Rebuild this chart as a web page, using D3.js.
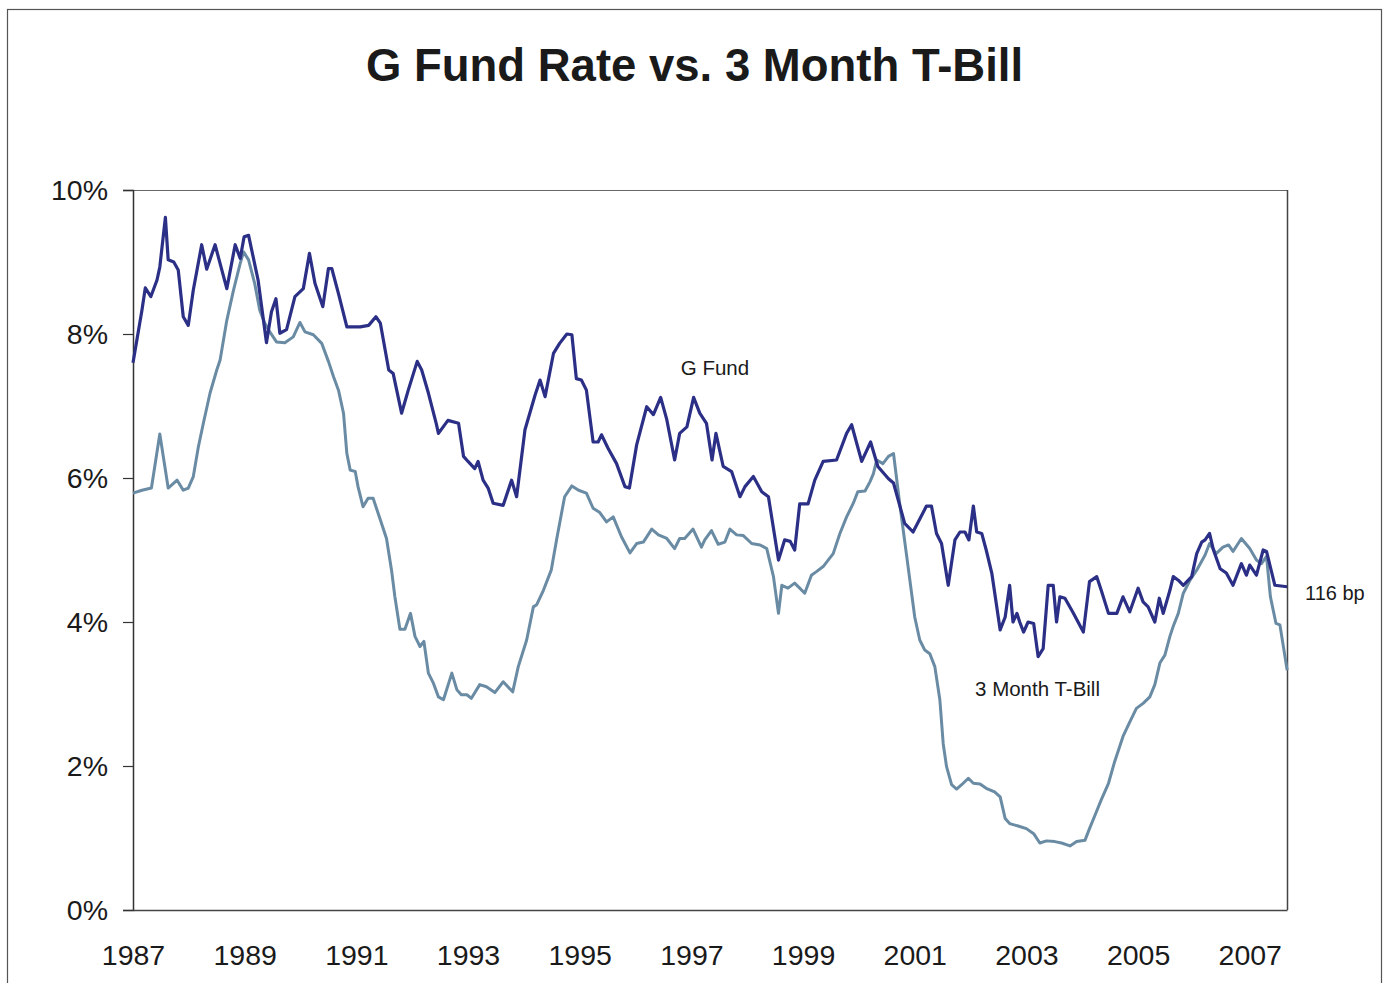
<!DOCTYPE html>
<html>
<head>
<meta charset="utf-8">
<script src="https://cdn.jsdelivr.net/npm/d3@7"></script>
<style>
  html, body { margin: 0; padding: 0; background: #fff; }
  svg { display: block; }
  text { font-family: "Liberation Sans", Arial, sans-serif; fill: #1a1a1a; }
</style>
</head>
<body>
<svg id="chart" width="1387" height="983"></svg>
<script>
// ---- data (decimal year, percent) ----
const gFundDates = [1987.00,1987.16,1987.22,1987.32,1987.43,1987.48,1987.58,1987.63,1987.73,1987.81,1987.90,1987.99,
  1988.08,1988.23,1988.32,1988.47,1988.68,1988.83,1988.92,1988.99,1989.07,1989.24,1989.39,1989.48,1989.56,1989.63,
  1989.75,1989.90,1990.05,1990.16,1990.26,1990.40,1990.50,1990.56,1990.68,1990.83,1991.07,1991.22,1991.35,1991.43,
  1991.58,1991.66,1991.81,1991.93,1992.09,1992.17,1992.29,1992.43,1992.47,1992.64,1992.83,1992.92,1993.00,1993.12,
  1993.18,1993.27,1993.36,1993.45,1993.63,1993.78,1993.87,1994.02,1994.20,1994.29,1994.38,1994.53,1994.64,1994.77,
  1994.86,1994.94,1995.03,1995.12,1995.24,1995.33,1995.39,1995.51,1995.66,1995.81,1995.89,1996.02,1996.20,1996.32,
  1996.45,1996.56,1996.70,1996.79,1996.92,1997.04,1997.15,1997.27,1997.37,1997.44,1997.57,1997.72,1997.87,1997.96,
  1998.11,1998.26,1998.38,1998.56,1998.67,1998.77,1998.85,1998.94,1999.09,1999.21,1999.36,1999.60,1999.78,1999.87,
  2000.05,2000.21,2000.34,2000.53,2000.62,2000.82,2000.97,2001.21,2001.30,2001.39,2001.48,2001.60,2001.72,2001.81,
  2001.90,2001.97,2002.05,2002.11,2002.20,2002.28,2002.38,2002.53,2002.62,2002.70,2002.76,2002.83,2002.88,2002.95,
  2003.03,2003.13,2003.21,2003.30,2003.39,2003.48,2003.54,2003.60,2003.69,2003.83,2004.02,2004.13,2004.26,2004.34,
  2004.47,2004.62,2004.73,2004.85,2005.00,2005.09,2005.18,2005.30,2005.38,2005.45,2005.57,2005.63,2005.72,2005.81,
  2005.96,2006.05,2006.14,2006.20,2006.28,2006.35,2006.47,2006.58,2006.70,2006.85,2006.94,2007.00,2007.12,2007.24,
  2007.30,2007.45,2007.67];
const gFundRates = [7.60,8.33,8.64,8.52,8.75,8.93,9.62,9.03,9.00,8.89,8.24,8.12,
  8.61,9.24,8.90,9.24,8.63,9.24,9.05,9.35,9.37,8.75,7.88,8.31,8.49,8.01,
  8.06,8.52,8.63,9.12,8.70,8.38,8.91,8.91,8.56,8.10,8.10,8.12,8.24,8.15,
  7.50,7.45,6.90,7.22,7.62,7.50,7.18,6.76,6.62,6.80,6.76,6.30,6.23,6.13,
  6.23,5.97,5.86,5.65,5.62,5.97,5.74,6.67,7.15,7.36,7.13,7.73,7.87,8.00,
  7.99,7.38,7.36,7.22,6.50,6.50,6.60,6.41,6.20,5.88,5.86,6.46,6.99,6.88,
  7.12,6.81,6.25,6.62,6.71,7.12,6.90,6.76,6.25,6.62,6.16,6.09,5.74,5.88,
  6.02,5.81,5.74,4.86,5.14,5.12,5.00,5.64,5.64,5.97,6.23,6.25,6.62,6.74,
  6.23,6.50,6.16,5.99,5.93,5.37,5.25,5.61,5.61,5.23,5.09,4.51,5.14,5.25,
  5.25,5.14,5.61,5.25,5.23,5.00,4.68,3.89,4.07,4.51,4.00,4.12,4.00,3.86,
  4.00,3.98,3.52,3.63,4.51,4.51,4.00,4.35,4.33,4.14,3.86,4.56,4.63,4.44,
  4.12,4.12,4.35,4.14,4.47,4.28,4.21,4.00,4.33,4.12,4.44,4.63,4.58,4.51,
  4.63,4.95,5.11,5.14,5.23,5.00,4.74,4.68,4.51,4.81,4.65,4.79,4.65,5.00,
  4.98,4.51,4.49];

const tBillDates = [1987.00,1987.16,1987.33,1987.48,1987.63,1987.79,1987.90,1987.99,1988.08,1988.17,1988.26,1988.38,
  1988.50,1988.56,1988.68,1988.80,1988.92,1988.98,1989.07,1989.18,1989.27,1989.36,1989.45,1989.57,1989.72,1989.87,
  1989.99,1990.08,1990.23,1990.38,1990.50,1990.59,1990.68,1990.77,1990.83,1990.89,1990.98,1991.03,1991.12,1991.21,
  1991.30,1991.42,1991.54,1991.63,1991.69,1991.78,1991.87,1991.97,1992.05,1992.14,1992.21,1992.29,1992.38,1992.47,
  1992.56,1992.71,1992.80,1992.88,1992.98,1993.06,1993.21,1993.33,1993.48,1993.63,1993.80,1993.90,1994.05,1994.17,
  1994.23,1994.35,1994.49,1994.59,1994.73,1994.86,1994.98,1995.12,1995.24,1995.36,1995.48,1995.60,1995.75,1995.90,
  1996.02,1996.14,1996.29,1996.41,1996.56,1996.70,1996.79,1996.88,1997.03,1997.18,1997.24,1997.36,1997.48,1997.60,
  1997.69,1997.81,1997.93,1998.08,1998.23,1998.35,1998.47,1998.56,1998.62,1998.73,1998.85,1998.94,1999.03,1999.15,
  1999.24,1999.36,1999.45,1999.54,1999.66,1999.78,1999.90,1999.98,2000.11,2000.20,2000.26,2000.32,2000.43,2000.53,
  2000.62,2000.73,2000.85,2001.00,2001.09,2001.18,2001.27,2001.36,2001.45,2001.51,2001.57,2001.66,2001.75,2001.84,
  2001.96,2002.05,2002.17,2002.28,2002.43,2002.53,2002.62,2002.70,2002.88,2003.00,2003.13,2003.24,2003.36,2003.51,
  2003.63,2003.78,2003.90,2004.05,2004.13,2004.23,2004.34,2004.47,2004.58,2004.73,2004.85,2004.97,2005.09,2005.21,
  2005.30,2005.39,2005.48,2005.57,2005.63,2005.72,2005.81,2005.93,2006.05,2006.20,2006.28,2006.40,2006.52,2006.62,
  2006.70,2006.85,2007.00,2007.12,2007.21,2007.30,2007.37,2007.47,2007.54,2007.67];
const tBillRates = [5.79,5.83,5.86,6.61,5.86,5.97,5.83,5.86,6.02,6.43,6.76,7.18,
  7.50,7.64,8.19,8.61,8.98,9.14,9.03,8.70,8.33,8.15,8.03,7.89,7.88,7.96,
  8.16,8.03,7.99,7.87,7.62,7.41,7.22,6.90,6.34,6.11,6.09,5.88,5.60,5.72,
  5.72,5.44,5.16,4.72,4.35,3.90,3.90,4.12,3.80,3.66,3.73,3.29,3.15,2.96,
  2.92,3.29,3.06,2.99,2.99,2.94,3.13,3.10,3.02,3.17,3.03,3.38,3.75,4.21,
  4.24,4.44,4.72,5.16,5.74,5.89,5.83,5.79,5.58,5.52,5.39,5.46,5.18,4.96,
  5.09,5.11,5.29,5.21,5.16,5.02,5.16,5.16,5.29,5.04,5.14,5.27,5.08,5.11,
  5.29,5.21,5.20,5.09,5.07,5.02,4.63,4.12,4.51,4.47,4.54,4.47,4.40,4.65,
  4.70,4.77,4.86,4.95,5.23,5.46,5.65,5.81,5.82,5.95,6.06,6.25,6.20,6.30,
  6.34,5.65,4.95,4.07,3.75,3.61,3.56,3.38,2.92,2.31,1.99,1.74,1.68,1.74,
  1.83,1.76,1.75,1.69,1.64,1.57,1.27,1.20,1.16,1.13,1.06,0.93,0.96,0.95,
  0.93,0.89,0.95,0.97,1.13,1.32,1.53,1.76,2.06,2.41,2.61,2.80,2.87,2.96,
  3.13,3.43,3.54,3.80,3.94,4.12,4.40,4.58,4.72,4.93,5.09,4.95,5.04,5.07,
  4.98,5.16,5.02,4.86,4.81,4.91,4.35,3.98,3.96,3.33];

const yearTicks = [1987,1989,1991,1993,1995,1997,1999,2001,2003,2005,2007];
const rateTicks = [0,2,4,6,8,10];
const titleText = "G Fund Rate vs. 3 Month T-Bill";
const seriesNames = ["G Fund", "3 Month T-Bill"];
const spreadLabel = "116 bp";

// ---- layout ----
const svg = d3.select("#chart");
const plot = { left: 133, right: 1287, top: 190, bottom: 910 };

const x = d3.scaleLinear().domain([1987, 2007.667]).range([plot.left, plot.right]);
const y = d3.scaleLinear().domain([0, 10]).range([plot.bottom, plot.top]);

// outer frame
svg.append("rect")
  .attr("x", 7.5).attr("y", 9.5).attr("width", 1374).attr("height", 1000)
  .attr("fill", "none").attr("stroke", "#555").attr("stroke-width", 1.2);

// title
svg.append("text")
  .attr("x", 694.5).attr("y", 81)
  .attr("text-anchor", "middle")
  .style("font-size", "45.5px").style("font-weight", "bold")
  .text(titleText);

// plot frame (top and right)
svg.append("line").attr("x1", plot.left).attr("x2", plot.right).attr("y1", plot.top + 0.5).attr("y2", plot.top + 0.5)
  .attr("stroke", "#666").attr("stroke-width", 1.2);
svg.append("line").attr("x1", plot.right + 0.5).attr("x2", plot.right + 0.5).attr("y1", plot.top).attr("y2", plot.bottom)
  .attr("stroke", "#444").attr("stroke-width", 1.5);

// y axis
const yAxis = d3.axisLeft(y).tickValues(rateTicks).tickFormat(d => d + "%").tickSize(10).tickPadding(15);
const gy = svg.append("g").attr("transform", `translate(${plot.left},0)`).call(yAxis);
gy.select(".domain").attr("stroke", "#333").attr("stroke-width", 1.5);
gy.selectAll(".tick line").attr("stroke", "#333").attr("stroke-width", 1.2);
gy.selectAll(".tick text").style("font-size", "28.5px").style("font-family", "Liberation Sans, Arial, sans-serif").attr("fill", "#1a1a1a");

// x axis
const xAxis = d3.axisBottom(x).tickValues(yearTicks).tickFormat(d3.format("d")).tickSize(0).tickPadding(35);
const gx = svg.append("g").attr("transform", `translate(0,${plot.bottom})`).call(xAxis);
gx.select(".domain").attr("stroke", "#444").attr("stroke-width", 1.3);
gx.selectAll(".tick text").style("font-size", "28.5px").style("font-family", "Liberation Sans, Arial, sans-serif").attr("fill", "#1a1a1a");

// lines
const tBill = tBillDates.map((d, i) => [d, tBillRates[i]]);
const gFund = gFundDates.map((d, i) => [d, gFundRates[i]]);
const line = d3.line().x(d => x(d[0])).y(d => y(d[1]));

svg.append("path").datum(tBill)
  .attr("d", line).attr("fill", "none")
  .attr("stroke", "#6a8ba4").attr("stroke-width", 3).attr("stroke-linejoin", "round");
svg.append("path").datum(gFund)
  .attr("d", line).attr("fill", "none")
  .attr("stroke", "#2b2f86").attr("stroke-width", 3.2).attr("stroke-linejoin", "round");

// annotations
svg.append("text").attr("x", x(1996.81)).attr("y", y(7.43)).style("font-size", "20.5px").text(seriesNames[0]);
svg.append("text").attr("x", x(2002.08)).attr("y", y(2.97)).style("font-size", "20.5px").text(seriesNames[1]);
svg.append("text").attr("x", plot.right + 18).attr("y", y(4.31)).style("font-size", "20px").text(spreadLabel);
</script>
</body>
</html>
